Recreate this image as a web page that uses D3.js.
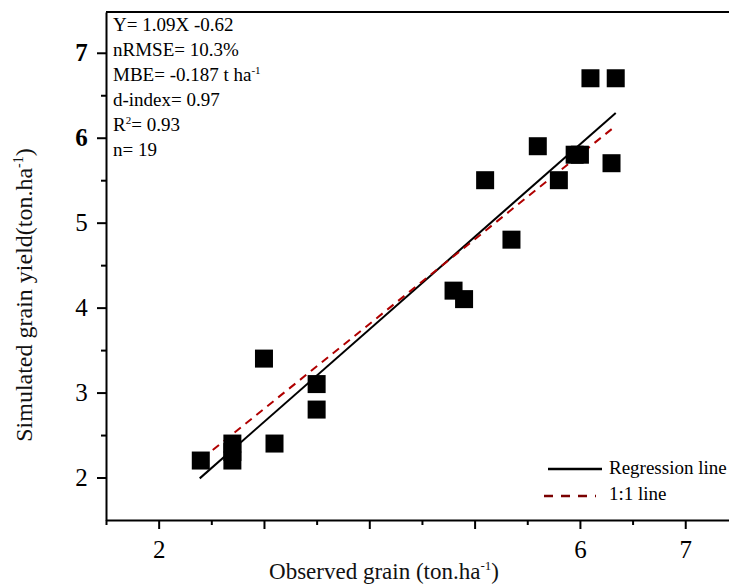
<!DOCTYPE html>
<html>
<head>
<meta charset="utf-8">
<script src="https://cdn.jsdelivr.net/npm/d3@7/dist/d3.min.js"></script>
<style>
  body { margin: 0; background: #fff; }
  svg { display: block; }
</style>
</head>
<body>
<script>
// observed vs simulated grain yield (ton/ha)
var observed  = [2.4, 2.7, 2.7, 2.7, 3.1, 3.0, 3.5, 3.5, 4.8, 4.9, 5.1, 5.35, 5.6, 5.8, 5.95, 6.0, 6.1, 6.34, 6.3];
var simulated = [2.2, 2.4, 2.3, 2.2, 2.4, 3.4, 3.1, 2.8, 4.2, 4.1, 5.5, 4.8, 5.9, 5.5, 5.8, 5.8, 6.7, 6.7, 5.7];

var regLineX = [2.39, 6.34];
var regLineY = [1.99, 6.29];
var oneLineX = [2.41, 6.34];
var oneLineY = [2.22, 6.14];

var xTicks = [2, 3, 4, 5, 6, 7];
var xTickLabels = ['2', '', '', '', '6', '7'];
var xMinor = [1.5, 2.5, 3.5, 4.5, 5.5, 6.5];
var yTicks = [2, 3, 4, 5, 6, 7];
var yTickLabels = ['2', '3', '4', '5', '6', '7'];
var yMinor = [2.5, 3.5, 4.5, 5.5, 6.5];

var statsLines = ['Y= 1.09X -0.62', 'nRMSE= 10.3%', 'MBE= -0.187 t ha', 'd-index= 0.97', 'R', 'n= 19'];

var width = 729;
var height = 584;
var plotLeft = 106, plotTop = 12, plotRight = 740, plotBottom = 520;
var serif = '"Liberation Serif", "Times New Roman", serif';

var svg = d3.select('body').append('svg')
    .attr('width', width)
    .attr('height', height);

var x = d3.scaleLinear().domain([1.5, 7.52]).range([plotLeft, plotRight]);
var y = d3.scaleLinear().domain([1.5, 7.48]).range([plotBottom, plotTop]);

// frame top
svg.append('line')
    .attr('x1', plotLeft).attr('x2', plotRight)
    .attr('y1', plotTop).attr('y2', plotTop)
    .attr('stroke', '#000').attr('stroke-width', 2);

// axes
var xAxis = svg.append('g')
    .attr('transform', 'translate(0,' + plotBottom + ')')
    .call(d3.axisBottom(x).tickValues(xTicks).tickSize(9).tickSizeOuter(0)
        .tickFormat(function (d, i) { return xTickLabels[i]; }));
svg.append('g')
    .attr('transform', 'translate(0,' + plotBottom + ')')
    .call(d3.axisBottom(x).tickValues(xMinor).tickSize(5).tickSizeOuter(0).tickFormat(''))
    .select('.domain').remove();

var yAxis = svg.append('g')
    .attr('transform', 'translate(' + plotLeft + ',0)')
    .call(d3.axisLeft(y).tickValues(yTicks).tickSize(9).tickSizeOuter(0)
        .tickFormat(function (d, i) { return yTickLabels[i]; }));
svg.append('g')
    .attr('transform', 'translate(' + plotLeft + ',0)')
    .call(d3.axisLeft(y).tickValues(yMinor).tickSize(5).tickSizeOuter(0).tickFormat(''))
    .select('.domain').remove();

svg.selectAll('.domain').attr('stroke-width', 2);
svg.selectAll('.tick line').attr('stroke-width', 2);
svg.selectAll('.tick text')
    .attr('font-family', serif)
    .attr('font-size', 25)
    .attr('fill', '#000');
xAxis.selectAll('.tick text').attr('dy', '1.05em');
yAxis.selectAll('.tick text').attr('dx', '-0.25em');
yAxis.selectAll('.tick text')
    .attr('font-weight', function (d) { return d >= 6 ? 'bold' : 'normal'; });

// regression + 1:1 lines
svg.append('line')
    .attr('x1', x(regLineX[0])).attr('y1', y(regLineY[0]))
    .attr('x2', x(regLineX[1])).attr('y2', y(regLineY[1]))
    .attr('stroke', '#000').attr('stroke-width', 2);

svg.append('line')
    .attr('x1', x(oneLineX[0])).attr('y1', y(oneLineY[0]))
    .attr('x2', x(oneLineX[1])).attr('y2', y(oneLineY[1]))
    .attr('stroke', '#b00000').attr('stroke-width', 2)
    .attr('stroke-dasharray', '8,6');

// points
var size = 18;
svg.append('g').selectAll('rect')
    .data(observed)
    .enter().append('rect')
    .attr('x', function (d) { return x(d) - size / 2; })
    .attr('y', function (d, i) { return y(simulated[i]) - size / 2; })
    .attr('width', size)
    .attr('height', size)
    .attr('fill', '#000');

// stats text
var stats = svg.append('g').attr('font-family', serif).attr('font-size', 19).attr('fill', '#000');
statsLines.forEach(function (s, i) {
    var t = stats.append('text')
        .attr('x', 113)
        .attr('y', 31 + i * 25)
        .text(s);
    if (i === 2) {
        t.append('tspan').attr('font-size', 11).attr('dy', -7).text('-1');
    }
    if (i === 4) {
        t.append('tspan').attr('font-size', 11).attr('dy', -7).text('2');
        t.append('tspan').attr('dy', 7).text('= 0.93');
    }
});

// legend
var legend = svg.append('g').attr('font-family', serif).attr('font-size', 19).attr('fill', '#000');
legend.append('line')
    .attr('x1', 548).attr('x2', 602).attr('y1', 469).attr('y2', 469)
    .attr('stroke', '#000').attr('stroke-width', 2.5);
legend.append('text').attr('x', 609).attr('y', 474).text('Regression line');
legend.append('line')
    .attr('x1', 544).attr('x2', 596).attr('y1', 496).attr('y2', 496)
    .attr('stroke', '#7a0000').attr('stroke-width', 2.5)
    .attr('stroke-dasharray', '9,8');
legend.append('text').attr('x', 609).attr('y', 500).text('1:1 line');

// axis titles
var xt = svg.append('text')
    .attr('x', 384).attr('y', 579)
    .attr('text-anchor', 'middle')
    .attr('font-family', serif).attr('font-size', 23).attr('fill', '#111')
    .text('Observed grain (ton.ha');
xt.append('tspan').attr('font-size', 13).attr('dy', -9).text('-1');
xt.append('tspan').attr('dy', 9).text(')');

var yt = svg.append('text')
    .attr('transform', 'translate(32,295) rotate(-90)')
    .attr('text-anchor', 'middle')
    .attr('font-family', serif).attr('font-size', 24).attr('fill', '#111')
    .text('Simulated grain yield(ton.ha');
yt.append('tspan').attr('font-size', 14).attr('dy', -9).text('-1');
yt.append('tspan').attr('dy', 9).text(')');
</script>
</body>
</html>
